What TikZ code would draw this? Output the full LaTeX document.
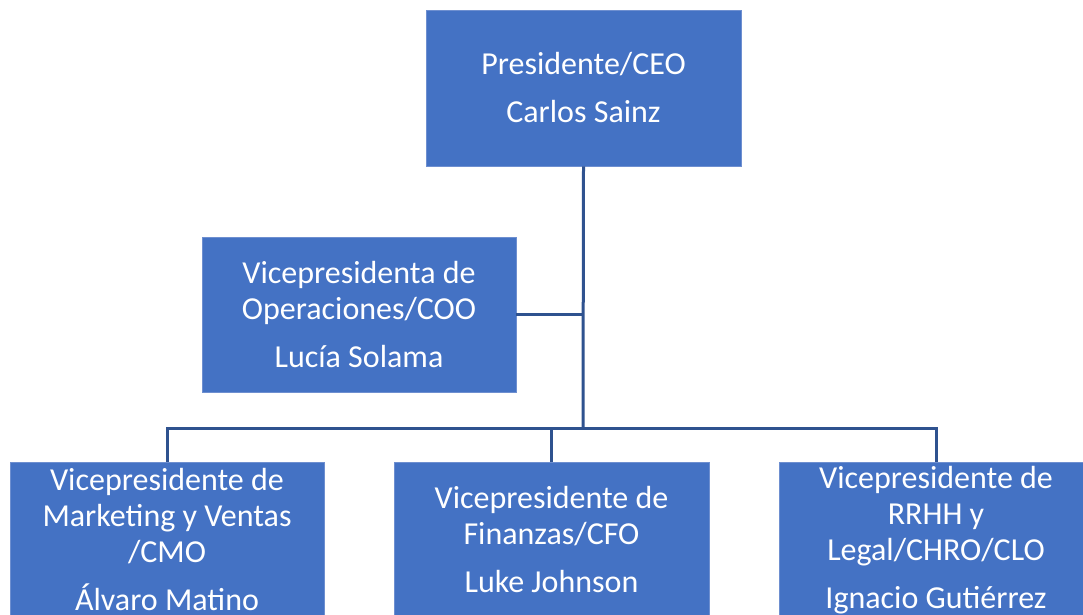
\documentclass[tikz,border=0pt]{standalone}
\usepackage{fontspec}
\setmainfont{Carlito}
\definecolor{boxblue}{HTML}{4472C4}
\definecolor{boxedge}{HTML}{6E8FD0}
\definecolor{linkblue}{HTML}{2F528F}
\begin{document}
\begin{tikzpicture}[x=1pt,y=-1pt,
  orgbox/.style={rectangle, fill=boxblue, draw=boxedge, line width=0.8pt, text=white,
    align=center, inner sep=0pt, font=\fontsize{32}{36}\selectfont},
  conn/.style={draw=linkblue, line width=3pt}]
\useasboundingbox (0,0) rectangle (1083,615);
\node[orgbox, minimum width=315, minimum height=156] (ceo) at (583.5,88) {Presidente/CEO\\[12pt]Carlos Sainz};
\node[orgbox, minimum width=314, minimum height=155] (coo) at (359,314.5) {Vicepresidenta de\\Operaciones/COO\\[12pt]Lucía Solama};
\node[orgbox, minimum width=314, minimum height=156] (cmo) at (167,540) {Vicepresidente de\\Marketing y Ventas\\/CMO\\[12pt]Álvaro Matino};
\node[orgbox, minimum width=315, minimum height=156] (cfo) at (551.5,540) {Vicepresidente de\\Finanzas/CFO\\[12pt]Luke Johnson};
\node[orgbox, minimum width=314, minimum height=156] (chro) at (936,540) {Vicepresidente de\\RRHH y\\Legal/CHRO/CLO\\[12pt]Ignacio Gutiérrez};
\coordinate (j) at (583,428);
\draw[conn] (ceo.south) -- (j);
\draw[conn] (coo.east) -- (coo.east -| j);
\draw[conn] (cmo.north) |- (j) -| (chro.north);
\draw[conn] (cfo.north) -- (cfo.north |- j);
\end{tikzpicture}
\end{document}
